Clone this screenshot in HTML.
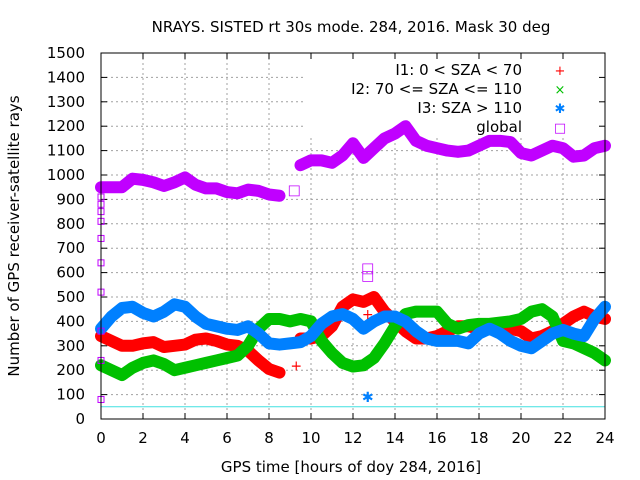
<!DOCTYPE html>
<html><head><meta charset="utf-8"><style>
body{margin:0;background:#fff}
svg{display:block;font-family:"DejaVu Sans","Liberation Sans",sans-serif}
</style></head><body>
<svg id="c" width="640" height="480">
<text x="351" y="32" font-size="15" text-anchor="middle">NRAYS. SISTED rt 30s mode. 284, 2016. Mask 30 deg</text>
<text x="351" y="472" font-size="15" text-anchor="middle">GPS time [hours of doy 284, 2016]</text>
<text transform="translate(19,236) rotate(-90)" font-size="15" text-anchor="middle">Number of GPS receiver-satellite rays</text>
<g id="grid"></g>
<rect x="303" y="54" width="301" height="82" fill="#fff"/>
<g id="ticks"></g>
<g id="series"></g>
<g id="legend"></g>
<rect x="101" y="53" width="504" height="366" fill="none" stroke="#000"/>
</svg>
<script>
const hours=[0,0.5,1,1.5,2,2.5,3,3.5,4,4.5,5,5.5,6,6.5,7,7.5,8,8.5,9,9.5,10,10.5,11,11.5,12,12.5,13,13.5,14,14.5,15,15.5,16,16.5,17,17.5,18,18.5,19,19.5,20,20.5,21,21.5,22,22.5,23,23.5,24];
const i1=[340,320,300,300,310,315,295,300,305,325,330,320,305,300,280,240,205,190,null,330,330,340,380,460,490,480,500,440,400,360,330,330,340,360,380,380,370,380,385,370,360,330,340,360,390,420,440,420,410];
const i2=[220,200,180,210,230,240,225,200,210,220,230,240,250,260,300,370,410,410,400,410,400,320,270,230,215,220,250,310,380,430,440,440,440,390,370,385,390,390,395,400,410,440,450,420,320,310,290,270,240];
const i3=[370,420,455,460,435,420,440,470,460,420,390,380,370,365,380,350,310,305,310,315,340,390,420,430,410,370,400,420,420,400,360,330,320,320,320,310,350,370,350,320,300,290,320,350,365,350,340,410,460];
const glob=[950,950,950,985,980,970,955,970,990,960,945,945,930,925,940,935,920,915,null,1040,1060,1060,1050,1080,1130,1070,1110,1150,1170,1200,1140,1120,1110,1100,1095,1100,1120,1140,1140,1135,1090,1080,1100,1120,1110,1075,1080,1110,1120];
const xTicks=[0,2,4,6,8,10,12,14,16,18,20,22,24];
const yTicks=[0,100,200,300,400,500,600,700,800,900,1000,1100,1200,1300,1400,1500];
const legendLabels=["I1: 0 < SZA < 70","I2: 70 <= SZA <= 110","I3: SZA > 110","global"];
const outlierHours=[9.3,12.7,12.7,12.7,12.7,9.2];
const outlierValues=[220,430,90,620,590,940];
const outlierSeries=[0,0,2,3,3,3];
const NS='http://www.w3.org/2000/svg';
const X=h=>101+h*504/24, Y=v=>419-v*366/1500;
function mk(t,a,p){const e=document.createElementNS(NS,t);for(const k in a)e.setAttribute(k,a[k]);p.appendChild(e);return e;}
const g=document.getElementById('grid'),tk=document.getElementById('ticks'),s=document.getElementById('series'),lg=document.getElementById('legend');
yTicks.forEach(v=>{
 if(v>0&&v<1500){const l=mk('line',{x1:101,x2:605,y1:Y(v),y2:Y(v),stroke:'#a0a0a0','stroke-dasharray':'2,3'},g);
 
 }
 const t=mk('text',{x:85,y:Y(v)+5,'font-size':15,'text-anchor':'end'},tk);t.textContent=v;
 
 
 mk('line',{x1:101,x2:107,y1:Y(v),y2:Y(v),stroke:'#000'},tk);mk('line',{x1:599,x2:605,y1:Y(v),y2:Y(v),stroke:'#000'},tk);
});
xTicks.forEach(h=>{
 if(h>0&&h<24){const l=mk('line',{x1:X(h),x2:X(h),y1:53,y2:419,stroke:'#a0a0a0','stroke-dasharray':'2,3'},g);
 
 }
 const t=mk('text',{x:X(h),y:443,'font-size':15,'text-anchor':'middle'},tk);t.textContent=h;
 
 
 mk('line',{x1:X(h),x2:X(h),y1:419,y2:413,stroke:'#000'},tk);mk('line',{x1:X(h),x2:X(h),y1:53,y2:59,stroke:'#000'},tk);
});
const cyan=mk('line',{x1:101,x2:605,y1:Y(50),y2:Y(50),stroke:'#40e0e0','stroke-width':1},s);


function band(vals,col,name){
 let segs=[],cur=[];
 vals.forEach((v,i)=>{if(v==null){if(cur.length)segs.push(cur);cur=[];}else cur.push(X(hours[i])+','+Y(v));});
 if(cur.length)segs.push(cur);
 segs.forEach(sg=>{const p=mk('polyline',{points:sg.join(' '),fill:'none',stroke:col,'stroke-width':12,'stroke-linejoin':'round','stroke-linecap':'round'},s);
 
 });
}
band(i1,'#ff0000','series-i1');
band(i2,'#00c000','series-i2');
band(i3,'#0080ff','series-i3');
band(glob,'#c000ff','series-global');
[80,240,360,520,640,740,810,850,880,910].forEach(v=>{mk('rect',{x:X(0)-3,y:Y(v)-3,width:6,height:6,fill:'none',stroke:'#c000ff'},s);});
const cols=['#ff0000','#00c000','#0080ff','#c000ff'],syms=['+','×','✱','□'];
outlierHours.forEach((h,i)=>{
 const m=mk('text',{x:X(h),y:Y(outlierValues[i])+5,'font-size':14,'text-anchor':'middle',fill:cols[outlierSeries[i]]},s);
 m.textContent=syms[outlierSeries[i]];
 
 
});
legendLabels.forEach((lab,i)=>{
 const y=75+i*19;
 const t=mk('text',{x:522,y:y,'font-size':15,'text-anchor':'end'},lg);t.textContent=lab;
 
 
 const m=mk('text',{x:560,y:y,'font-size':13,'text-anchor':'middle',fill:cols[i]},lg);m.textContent=syms[i];
 
 
});
</script>
</body></html>
